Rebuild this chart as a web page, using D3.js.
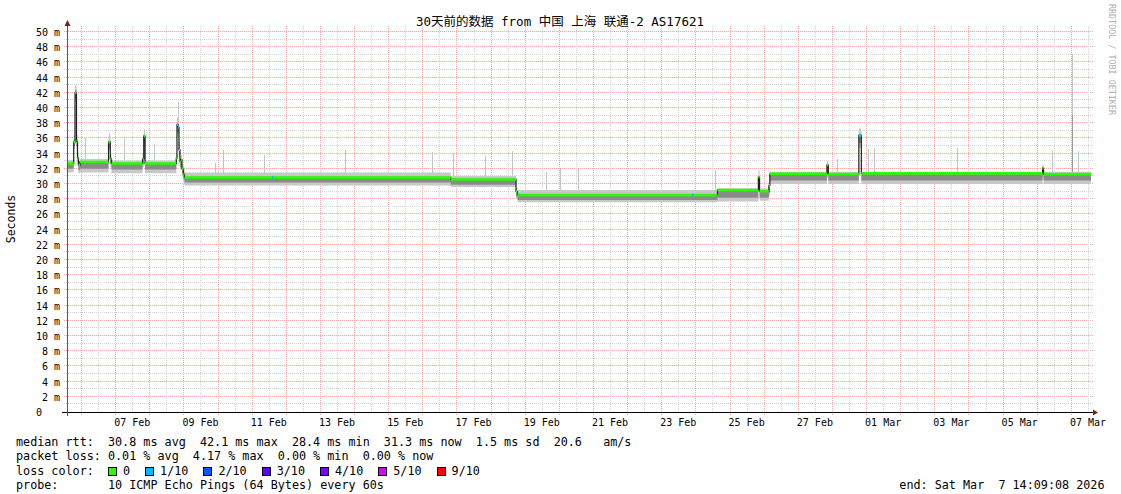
<!DOCTYPE html>
<html><head><meta charset="utf-8">
<script src="https://cdn.jsdelivr.net/npm/d3@7"></script>
<style>
html,body{margin:0;padding:0;background:#fff;}
svg{display:block;}
text{font-family:"DejaVu Sans Mono","Noto Sans CJK SC",monospace;fill:#000;}
</style></head><body>
<svg id="chart" width="1121" height="494"></svg>
<script>
// ---------------- data ----------------
const title = "30天前的数据 from 中国 上海 联通-2 AS17621";
const yLabel = "Seconds";
const watermark = "RRDTOOL / TOBI OETIKER";
const startTime = "2026-02-05 14:09";
const endTime = "2026-03-07 14:09";
const yTickValues = [0,2,4,6,8,10,12,14,16,18,20,22,24,26,28,30,32,34,36,38,40,42,44,46,48,50];
const xLabelDates = ["2026-02-07","2026-02-09","2026-02-11","2026-02-13","2026-02-15","2026-02-17","2026-02-19","2026-02-21","2026-02-23","2026-02-25","2026-02-27","2026-03-01","2026-03-03","2026-03-05","2026-03-07"];

// median rtt (ms), step values starting at each time
const median = [
  ["2026-02-05 14:09", 32.7], ["2026-02-05 18:52", 35.5], ["2026-02-05 19:47", 42.0],
  ["2026-02-05 20:50", 35.6], ["2026-02-05 21:32", 33.4], ["2026-02-05 22:14", 32.5],
  ["2026-02-05 23:17", 32.9], ["2026-02-06 19:20", 35.5], ["2026-02-06 20:36", 33.3],
  ["2026-02-06 21:27", 32.7], ["2026-02-07 19:16", 33.3], ["2026-02-07 20:07", 36.3],
  ["2026-02-07 21:02", 32.7], ["2026-02-08 18:59", 33.4], ["2026-02-08 19:29", 37.8],
  ["2026-02-08 20:11", 37.5], ["2026-02-08 20:53", 34.5], ["2026-02-08 21:35", 32.9],
  ["2026-02-08 22:17", 33.2], ["2026-02-08 22:59", 32.0], ["2026-02-09 00:03", 31.3],
  ["2026-02-09 00:46", 30.85], ["2026-02-16 19:58", 30.6], ["2026-02-18 17:52", 29.0],
  ["2026-02-18 18:55", 28.55], ["2026-02-24 15:28", 29.2], ["2026-02-25 20:15", 30.9],
  ["2026-02-25 21:06", 29.05], ["2026-02-26 03:39", 29.8], ["2026-02-26 04:21", 31.35],
  ["2026-02-27 20:28", 32.5], ["2026-02-27 21:27", 31.3], ["2026-02-28 18:55", 36.4],
  ["2026-02-28 20:40", 31.4], ["2026-03-06 04:05", 32.1], ["2026-03-06 04:47", 31.3]
];

// smoke bands: [time, outerLow, innerLow, innerHigh, outerHigh] (ms)
const smoke = [
  ["2026-02-05 14:09", 31.5, 32.0, 32.75, 33.2], ["2026-02-05 18:52", 34.6, 35.0, 35.8, 36.5],
  ["2026-02-05 19:47", 40.8, 41.3, 42.4, 43.0], ["2026-02-05 20:50", 34.6, 35.0, 35.9, 36.5],
  ["2026-02-05 21:32", 32.4, 32.8, 33.6, 34.0], ["2026-02-05 22:14", 31.4, 31.8, 32.6, 33.0],
  ["2026-02-05 23:17", 31.5, 32.0, 32.9, 33.3], ["2026-02-06 19:20", 34.4, 34.8, 35.7, 36.4],
  ["2026-02-06 20:36", 32.2, 32.7, 33.5, 34.0], ["2026-02-06 21:27", 31.4, 31.9, 32.7, 33.1],
  ["2026-02-07 19:16", 32.2, 32.6, 33.5, 34.0], ["2026-02-07 20:07", 35.0, 35.4, 36.5, 37.0],
  ["2026-02-07 21:02", 31.4, 31.9, 32.7, 33.1], ["2026-02-08 18:59", 32.4, 32.8, 33.6, 34.0],
  ["2026-02-08 19:29", 36.2, 36.8, 38.0, 38.8], ["2026-02-08 20:11", 36.4, 36.8, 37.8, 39.2],
  ["2026-02-08 20:53", 33.4, 33.8, 34.8, 35.5], ["2026-02-08 21:35", 31.8, 32.2, 33.0, 33.4],
  ["2026-02-08 22:17", 32.0, 32.4, 33.3, 33.8], ["2026-02-08 22:59", 31.0, 31.4, 32.2, 32.6],
  ["2026-02-09 00:03", 30.3, 30.6, 31.4, 31.8], ["2026-02-09 00:46", 29.8, 30.2, 30.95, 31.5],
  ["2026-02-16 19:58", 29.6, 29.9, 30.65, 31.05], ["2026-02-18 17:52", 28.1, 28.4, 29.1, 29.5],
  ["2026-02-18 18:55", 27.6, 27.9, 28.65, 29.2], ["2026-02-24 15:28", 27.7, 28.2, 29.1, 29.45],
  ["2026-02-25 20:15", 29.4, 29.8, 31.0, 31.8], ["2026-02-25 21:06", 27.8, 28.2, 29.0, 29.4],
  ["2026-02-26 03:39", 28.4, 28.8, 29.9, 30.3], ["2026-02-26 04:21", 30.0, 30.45, 31.3, 31.6],
  ["2026-02-27 20:28", 30.8, 31.3, 32.6, 33.0], ["2026-02-27 21:27", 30.0, 30.45, 31.3, 31.6],
  ["2026-02-28 18:55", 34.8, 35.4, 36.6, 37.3], ["2026-02-28 20:40", 30.0, 30.45, 31.3, 31.6],
  ["2026-03-06 04:05", 30.8, 31.2, 32.2, 32.6], ["2026-03-06 04:47", 30.0, 30.45, 31.3, 31.6]
];

// single slow pings (max rtt spikes), ms
const outliers = [
  ["2026-02-06 03:01", 36.1], ["2026-02-06 19:54", 36.7], ["2026-02-07 06:03", 36.0],
  ["2026-02-07 20:19", 37.2], ["2026-02-08 03:06", 35.3], ["2026-02-08 20:11", 40.8],
  ["2026-02-09 22:26", 32.8], ["2026-02-10 03:39", 34.5], ["2026-02-11 08:30", 33.8],
  ["2026-02-13 17:39", 34.5], ["2026-02-16 07:02", 34.2], ["2026-02-16 21:48", 34.1],
  ["2026-02-17 20:07", 33.7], ["2026-02-18 14:50", 34.3], ["2026-02-19 14:46", 31.6],
  ["2026-02-20 00:50", 32.0], ["2026-02-20 13:43", 32.0], ["2026-02-24 13:30", 31.85],
  ["2026-02-28 03:14", 33.25], ["2026-03-01 01:37", 34.6], ["2026-03-01 05:50", 34.8],
  ["2026-03-03 16:10", 34.7], ["2026-03-06 10:33", 34.3], ["2026-03-07 01:03", 47.1],
  ["2026-03-07 05:16", 34.3]
];
const innerOutliers = [["2026-03-07 01:03", 39.1]];

// packet loss events: [time, loss level index]
const lossEvents = [
  ["2026-02-05 19:47", 1], ["2026-02-08 20:11", 1], ["2026-02-11 14:21", 1],
  ["2026-02-23 21:40", 1], ["2026-02-26 03:39", 1], ["2026-02-28 19:45", 1]
];

const lossLabels = ["0", "1/10", "2/10", "3/10", "4/10", "5/10", "9/10"];
const lossColors = ["#26ff00", "#00b8ff", "#0059ff", "#5e00ff", "#7e00ff", "#dd00ff", "#ff0000"];

const rttStats = [30.8, 42.1, 28.4, 31.3];
const rttStatNames = ["avg", "max", "min", "now"];
const rttSd = 1.5;
const rttAmS = 20.6;
const lossStats = [0.01, 4.17, 0.00, 0.00];
const probeText = "10 ICMP Echo Pings (64 Bytes) every 60s";
const endText = "end: Sat Mar  7 14:09:08 2026";

// ---------------- drawing ----------------
const parse = d3.utcParse("%Y-%m-%d %H:%M");
const parseDay = d3.utcParse("%Y-%m-%d");
const svg = d3.select("#chart");
const t0 = parse(startTime), t1 = parse(endTime);
const x = d3.scaleUtc().domain([t0, t1]).range([67, 1091]);
const y = d3.scaleLinear().domain([0, 50]).range([412, 32]);
const plotTop = 26;
const px = v => Math.round(v) + 0.5;
const keep = s => s.replace(/ /g, "\u00A0");

const MINOR = "#d4d4d4", MAJOR = "#f4a8a8";

// grid
const grid = svg.append("g").attr("shape-rendering", "crispEdges").attr("stroke-width", 1).attr("stroke-dasharray", "1,1");
y.ticks(50).filter(v => v > 0).forEach(v => {
  grid.append("line").attr("x1", 64).attr("x2", 1094)
    .attr("y1", px(y(v)) - 1).attr("y2", px(y(v)) - 1)
    .attr("stroke", v % 2 === 0 ? MAJOR : MINOR);
});
x.ticks(d3.utcHour.every(12)).forEach(t => {
  const major = t.getUTCHours() === 0;
  grid.append("line").attr("x1", px(x(t))).attr("x2", px(x(t)))
    .attr("y1", plotTop).attr("y2", major ? 415 : 414)
    .attr("stroke", major ? MAJOR : MINOR);
});

// data rows
const med = median.map(d => ({t: parse(d[0]), v: d[1]}));
const medExt = med.concat([{t: t1, v: med[med.length - 1].v}]);
const sm = smoke.map(d => ({t: parse(d[0]), lo1: d[1], lo2: d[2], hi2: d[3], hi1: d[4]}));
const smExt = sm.concat([Object.assign({}, sm[sm.length - 1], {t: t1})]);
const bis = d3.bisector(d => d.t).right;
const medianAt = t => med[Math.max(0, bis(med, t) - 1)].v;
const smokeAt = t => sm[Math.max(0, bis(sm, t) - 1)];

const plotG = svg.append("g");
// outer smoke
plotG.append("path").datum(smExt)
  .attr("d", d3.area().curve(d3.curveStepAfter).x(d => x(d.t)).y0(d => y(d.lo1)).y1(d => y(d.hi1)))
  .attr("fill", "#c8c8c8");
// outliers
outliers.forEach(d => {
  const t = parse(d[0]);
  plotG.append("line").attr("x1", px(x(t))).attr("x2", px(x(t)))
    .attr("y1", y(smokeAt(t).hi1)).attr("y2", y(d[1]))
    .attr("stroke", "#c4c4c4").attr("stroke-width", 1).attr("shape-rendering", "crispEdges");
});
innerOutliers.forEach(d => {
  const t = parse(d[0]);
  plotG.append("line").attr("x1", px(x(t))).attr("x2", px(x(t)))
    .attr("y1", y(smokeAt(t).hi1)).attr("y2", y(d[1]))
    .attr("stroke", "#9a9a9a").attr("stroke-width", 1).attr("shape-rendering", "crispEdges");
});
// inner smoke
plotG.append("path").datum(smExt)
  .attr("d", d3.area().curve(d3.curveStepAfter).x(d => x(d.t)).y0(d => y(d.lo2)).y1(d => y(d.hi2)))
  .attr("fill", "#8a8a8a");

// median line
plotG.append("path").datum(medExt)
  .attr("d", d3.line().curve(d3.curveStepAfter).x(d => x(d.t)).y(d => y(d.v)))
  .attr("fill", "none").attr("stroke", "#202020").attr("stroke-width", 1.2);

// median loss-colour band
med.forEach((d, i) => {
  const ta = d.t, tb = i + 1 < med.length ? med[i + 1].t : t1;
  plotG.append("rect").attr("x", x(ta)).attr("width", Math.max(0.5, x(tb) - x(ta)))
    .attr("y", y(d.v) - 1.3).attr("height", 2.6).attr("fill", lossColors[0]);
});
lossEvents.forEach(d => {
  const t = parse(d[0]);
  plotG.append("rect").attr("x", x(t)).attr("width", x(d3.utcMinute.offset(t, 45)) - x(t))
    .attr("y", y(medianAt(t)) - 1.3).attr("height", 2.6).attr("fill", lossColors[d[1]]);
});

// axes
const axisG = svg.append("g").attr("shape-rendering", "crispEdges");
axisG.append("line").attr("x1", 62).attr("x2", 1094).attr("y1", 412.5).attr("y2", 412.5).attr("stroke", "#000");
axisG.append("line").attr("x1", 67.5).attr("x2", 67.5).attr("y1", 416).attr("y2", 22).attr("stroke", "#555");
svg.append("path").attr("d", "M1093,409.5 L1098,412.5 L1093,415.5 Z").attr("fill", "#7f1f1f");
svg.append("path").attr("d", "M64.5,26 L67.5,20 L70.5,26 Z").attr("fill", "#7f1f1f");

// y tick labels
const yl = svg.append("g").attr("font-size", "10px");
yTickValues.forEach(v => {
  yl.append("text").attr("x", v === 0 ? 42 : 60).attr("y", px(y(v)) + 3)
    .attr("text-anchor", "end").text(v === 0 ? "0" : keep(`${v} m`));
});
// x labels
const fmt = d3.utcFormat("%d %b");
const xl = svg.append("g").attr("font-size", "10px");
xLabelDates.forEach(s => {
  const d = parseDay(s);
  xl.append("text").attr("x", x(d3.utcHour.offset(d, 12))).attr("y", 426)
    .attr("text-anchor", "middle").text(keep(fmt(d)));
});

// title & labels
svg.append("text").attr("x", 560).attr("y", 26).attr("text-anchor", "middle")
  .attr("font-size", "12.5px").text(title);
svg.append("text").attr("transform", "translate(14.5,219) rotate(-90)").attr("text-anchor", "middle")
  .attr("font-size", "11.5px").text(yLabel);
svg.append("text").attr("transform", "translate(1108.5,4) rotate(90)")
  .attr("font-size", "8.4px").style("fill", "#b0b0b0").text(keep(watermark));

// legend
const lg = svg.append("g").attr("font-size", "11.75px");
const row1 = "median rtt:  " + rttStats.map((v, i) => `${v.toFixed(1)} ms ${rttStatNames[i]}`).join("  ")
  + `  ${rttSd.toFixed(1)} ms sd  ${rttAmS.toFixed(1)}   am/s`;
const row2 = "packet loss: " + lossStats.map((v, i) => `${v.toFixed(2)} % ${rttStatNames[i]}`).join("  ");
lg.append("text").attr("x", 16).attr("y", 445.5).text(keep(row1));
lg.append("text").attr("x", 16).attr("y", 460).text(keep(row2));
lg.append("text").attr("x", 16).attr("y", 474.5).text(keep("loss color:"));
lg.append("text").attr("x", 16).attr("y", 489).text(keep("probe:       " + probeText));
lg.append("text").attr("x", 1104.5).attr("y", 489).attr("text-anchor", "end").text(keep(endText));
let bx = 108;
lossLabels.forEach((lab, i) => {
  lg.append("rect").attr("x", bx + 0.5).attr("y", 467.5).attr("width", 8).attr("height", 8)
    .attr("fill", lossColors[i]).attr("stroke", "#000").attr("stroke-width", 1).attr("shape-rendering", "crispEdges");
  const tx = lg.append("text").attr("x", bx + 15).attr("y", 474.5).text(lab);
  bx = bx + 15 + tx.node().getComputedTextLength() + 15;
});
</script>
</body></html>
